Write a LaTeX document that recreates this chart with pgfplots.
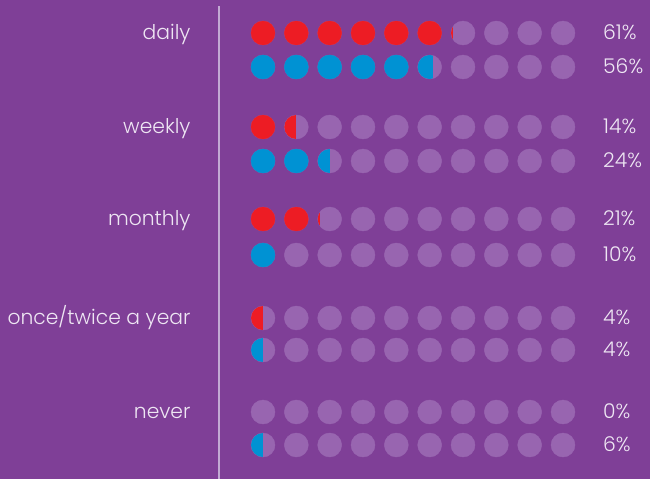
\documentclass[border=0pt]{standalone}
\usepackage{pgfplots}
\pgfplotsset{compat=1.18}
\usepackage{fontspec}
\setmainfont{Poppins Light}

\definecolor{bgpurple}{RGB}{127,63,151}
\definecolor{dotgray}{RGB}{152,101,176}
\definecolor{cred}{RGB}{237,28,36}
\definecolor{cblue}{RGB}{0,146,211}
\definecolor{rulecol}{RGB}{194,170,211}
\definecolor{txtcol}{RGB}{238,230,243}

\tikzset{lbl/.style={font=\fontsize{20.3}{23}\selectfont, text=txtcol, inner sep=0pt}}

% partly filled dot: left part of the circle, \segfrac of its width
\pgfdeclareplotmark{seg}{%
  \begin{pgfscope}
    \pgfpathcircle{\pgfpointorigin}{\pgfplotmarksize}%
    \pgfusepath{clip}%
    \pgfpathrectanglecorners{\pgfpoint{-1.1\pgfplotmarksize}{-1.1\pgfplotmarksize}}%
      {\pgfpoint{(2*\segfrac-1)*\pgfplotmarksize}{1.1\pgfplotmarksize}}%
    \pgfusepath{fill}%
  \end{pgfscope}
}

\begin{document}
\begin{tikzpicture}
\begin{axis}[
  scale only axis,
  width=650pt, height=479pt,
  xmin=-6.89, xmax=12.61,
  ymin=0, ymax=479, y dir=reverse,
  axis line style={draw=none},
  xtick=\empty, ytick=\empty,
  axis background/.style={fill=bgpurple},
  clip=false,
]

% divider
\addplot[rulecol, line width=1.2pt] coordinates {(-0.32,6) (-0.32,479)};

% empty dots, ten per row
\addplot[only marks, mark=*, mark size=12pt, dotgray, mark options={draw=none}] coordinates {
  (1,33)(2,33)(3,33)(4,33)(5,33)(6,33)(7,33)(8,33)(9,33)(10,33)
  (1,67)(2,67)(3,67)(4,67)(5,67)(6,67)(7,67)(8,67)(9,67)(10,67)
  (1,127)(2,127)(3,127)(4,127)(5,127)(6,127)(7,127)(8,127)(9,127)(10,127)
  (1,161)(2,161)(3,161)(4,161)(5,161)(6,161)(7,161)(8,161)(9,161)(10,161)
  (1,219)(2,219)(3,219)(4,219)(5,219)(6,219)(7,219)(8,219)(9,219)(10,219)
  (1,255)(2,255)(3,255)(4,255)(5,255)(6,255)(7,255)(8,255)(9,255)(10,255)
  (1,318)(2,318)(3,318)(4,318)(5,318)(6,318)(7,318)(8,318)(9,318)(10,318)
  (1,350)(2,350)(3,350)(4,350)(5,350)(6,350)(7,350)(8,350)(9,350)(10,350)
  (1,412)(2,412)(3,412)(4,412)(5,412)(6,412)(7,412)(8,412)(9,412)(10,412)
  (1,445)(2,445)(3,445)(4,445)(5,445)(6,445)(7,445)(8,445)(9,445)(10,445)
};

% full dots
\addplot[only marks, mark=*, mark size=12pt, cred, mark options={draw=none}] coordinates {
  (1,33)(2,33)(3,33)(4,33)(5,33)(6,33)
  (1,127)
  (1,219)(2,219)
};
\addplot[only marks, mark=*, mark size=12pt, cblue, mark options={draw=none}] coordinates {
  (1,67)(2,67)(3,67)(4,67)(5,67)
  (1,161)(2,161)
  (1,255)
};

% partial dots
\addplot[scatter, only marks, mark=seg, mark size=12pt,
  scatter/use mapped color={draw=none, fill=cred},
  visualization depends on={\thisrow{f} \as \segfrac}]
  table[row sep=\\] {x y f\\ 7 33 0.1\\ 2 127 0.5\\ 3 219 0.1\\ 1 318 0.5\\};
\addplot[scatter, only marks, mark=seg, mark size=12pt,
  scatter/use mapped color={draw=none, fill=cblue},
  visualization depends on={\thisrow{f} \as \segfrac}]
  table[row sep=\\] {x y f\\ 6 67 0.62\\ 3 161 0.53\\ 1 350 0.5\\ 1 445 0.5\\};

% category names
\node[lbl, anchor=base east] at (axis cs:-1.17,39) {daily};
\node[lbl, anchor=base east] at (axis cs:-1.17,133) {weekly};
\node[lbl, anchor=base east] at (axis cs:-1.17,225) {monthly};
\node[lbl, anchor=base east] at (axis cs:-1.17,324) {once/twice a year};
\node[lbl, anchor=base east] at (axis cs:-1.17,418) {never};

% values
\node[lbl, anchor=base west] at (axis cs:11.2,39) {61\%};
\node[lbl, anchor=base west] at (axis cs:11.2,73) {56\%};
\node[lbl, anchor=base west] at (axis cs:11.2,133) {14\%};
\node[lbl, anchor=base west] at (axis cs:11.2,167) {24\%};
\node[lbl, anchor=base west] at (axis cs:11.2,225) {21\%};
\node[lbl, anchor=base west] at (axis cs:11.2,261) {10\%};
\node[lbl, anchor=base west] at (axis cs:11.2,324) {4\%};
\node[lbl, anchor=base west] at (axis cs:11.2,356) {4\%};
\node[lbl, anchor=base west] at (axis cs:11.2,418) {0\%};
\node[lbl, anchor=base west] at (axis cs:11.2,451) {6\%};
\end{axis}
\end{tikzpicture}
\end{document}
